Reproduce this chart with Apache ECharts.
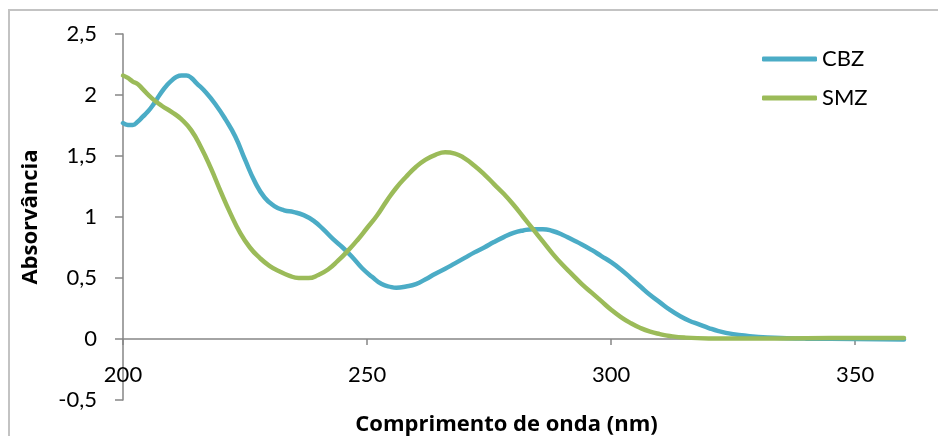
<!DOCTYPE html>
<html>
<head>
<meta charset="utf-8">
<script src="https://cdn.jsdelivr.net/npm/echarts@6/dist/echarts.min.js"></script>
<style>
  html, body { margin: 0; padding: 0; background: #fff; }
  #chart { width: 938px; height: 436px; }
</style>
</head>
<body>
<div id="chart"></div>
<script>
// Absorption spectra (wavelength in nm, absorbance)
const cbzWavelength = [200, 201, 202, 203, 204, 205, 206, 207, 208, 209, 210, 211, 212, 213, 214, 215, 217, 219, 221, 223, 225, 227, 229, 231, 233, 235, 237, 239, 241, 243, 245, 247, 249, 251, 253, 255, 256, 258, 260, 262, 264, 266, 268, 270, 272, 274, 276, 278, 280, 282, 284, 286, 288, 290, 292, 294, 296, 298, 300, 302, 304, 306, 308, 310, 312, 314, 316, 318, 320, 322, 325, 328, 332, 336, 340, 350, 360];
const cbzAbsorbance = [1.77, 1.755, 1.755, 1.78, 1.82, 1.86, 1.91, 1.97, 2.03, 2.08, 2.12, 2.15, 2.16, 2.16, 2.14, 2.10, 2.02, 1.92, 1.80, 1.66, 1.47, 1.29, 1.16, 1.09, 1.055, 1.04, 1.015, 0.97, 0.90, 0.82, 0.75, 0.67, 0.58, 0.51, 0.45, 0.425, 0.42, 0.43, 0.45, 0.49, 0.535, 0.575, 0.62, 0.665, 0.71, 0.75, 0.795, 0.835, 0.87, 0.89, 0.90, 0.90, 0.885, 0.855, 0.815, 0.775, 0.73, 0.68, 0.63, 0.57, 0.50, 0.43, 0.36, 0.30, 0.24, 0.19, 0.15, 0.12, 0.09, 0.065, 0.04, 0.025, 0.012, 0.006, 0.003, 0.0, -0.004];

const smzWavelength = [200, 201, 202, 203, 204, 206, 208, 210, 212, 214, 216, 218, 220, 222, 224, 226, 228, 230, 232, 234, 236, 238, 240, 242, 244, 246, 248, 250, 252, 254, 256, 258, 260, 262, 264, 266, 268, 270, 272, 274, 276, 278, 280, 282, 284, 286, 288, 290, 292, 294, 296, 298, 300, 302, 304, 306, 308, 310, 312, 315, 320, 330, 340, 350, 360];
const smzAbsorbance = [2.16, 2.14, 2.11, 2.09, 2.05, 1.97, 1.91, 1.86, 1.80, 1.71, 1.57, 1.40, 1.21, 1.03, 0.87, 0.75, 0.665, 0.60, 0.555, 0.52, 0.50, 0.50, 0.525, 0.57, 0.64, 0.72, 0.81, 0.91, 1.01, 1.13, 1.24, 1.33, 1.41, 1.47, 1.51, 1.53, 1.52, 1.48, 1.42, 1.35, 1.27, 1.19, 1.10, 1.00, 0.90, 0.80, 0.70, 0.61, 0.53, 0.45, 0.38, 0.31, 0.24, 0.18, 0.13, 0.09, 0.06, 0.04, 0.025, 0.012, 0.005, 0.004, 0.006, 0.008, 0.008];

const xTicks = [200, 250, 300, 350];
const seriesNames = ['CBZ', 'SMZ'];
const seriesColors = ['#4BACC6', '#9BBB59'];

const pairs = (xs, ys) => xs.map((x, i) => [x, ys[i]]);
const commaNum = v => String(v).replace('.', ',');

const FONT = 'Lato';
const TITLE_FONT = 'Open Sans';
const axisGray = '#868686';

const chart = echarts.init(document.getElementById('chart'));
chart.setOption({
  animation: false,
  backgroundColor: '#fff',
  textStyle: { fontFamily: FONT },
  graphic: [{
    type: 'rect',
    z: -10,
    shape: { x: 9, y: 10, width: 1000, height: 1000 },
    style: { fill: 'none', stroke: '#c3c3c3', lineWidth: 2 }
  }],
  grid: { left: 123, right: 34, top: 34, bottom: 36, outerBoundsMode: 'none' },
  legend: {
    orient: 'vertical',
    left: 762,
    top: 48,
    padding: 0,
    itemWidth: 55,
    itemHeight: 5,
    itemGap: 17,
    icon: 'roundRect',
    textStyle: { fontFamily: FONT, fontSize: 22, color: '#000', lineHeight: 21 },
    data: seriesNames
  },
  xAxis: {
    type: 'value',
    min: 200,
    max: 360,
    interval: 50,
    name: 'Comprimento de onda (nm)',
    nameLocation: 'middle',
    nameGap: 14,
    nameTextStyle: { fontFamily: TITLE_FONT, fontSize: 22, fontWeight: 'bold', color: '#000', padding: [0, 14, 0, 0] },
    axisLine: { onZero: true, lineStyle: { color: axisGray, width: 1.5 } },
    axisTick: { show: true, length: 6, customValues: xTicks, lineStyle: { color: axisGray, width: 1.5 } },
    axisLabel: { customValues: xTicks, margin: -36, fontFamily: FONT, fontSize: 22, color: '#000' },
    splitLine: { show: false }
  },
  yAxis: {
    type: 'value',
    min: -0.5,
    max: 2.5,
    interval: 0.5,
    name: 'Absorvância',
    nameLocation: 'middle',
    nameRotate: 90,
    nameGap: 81,
    nameTextStyle: { fontFamily: TITLE_FONT, fontSize: 22, fontWeight: 'bold', color: '#000' },
    axisLine: { show: true, onZero: false, lineStyle: { color: axisGray, width: 1.5 } },
    axisTick: { show: true, length: 8, lineStyle: { color: axisGray, width: 1.5 } },
    axisLabel: { margin: 26, fontFamily: FONT, fontSize: 22, color: '#000', formatter: commaNum },
    splitLine: { show: false }
  },
  series: [
    {
      name: seriesNames[0],
      type: 'line',
      data: pairs(cbzWavelength, cbzAbsorbance),
      smooth: true,
      showSymbol: false,
      color: seriesColors[0],
      lineStyle: { width: 4.5, cap: 'round', join: 'round' }
    },
    {
      name: seriesNames[1],
      type: 'line',
      data: pairs(smzWavelength, smzAbsorbance),
      smooth: true,
      showSymbol: false,
      color: seriesColors[1],
      lineStyle: { width: 4.5, cap: 'round', join: 'round' }
    }
  ]
});
</script>
</body>
</html>
